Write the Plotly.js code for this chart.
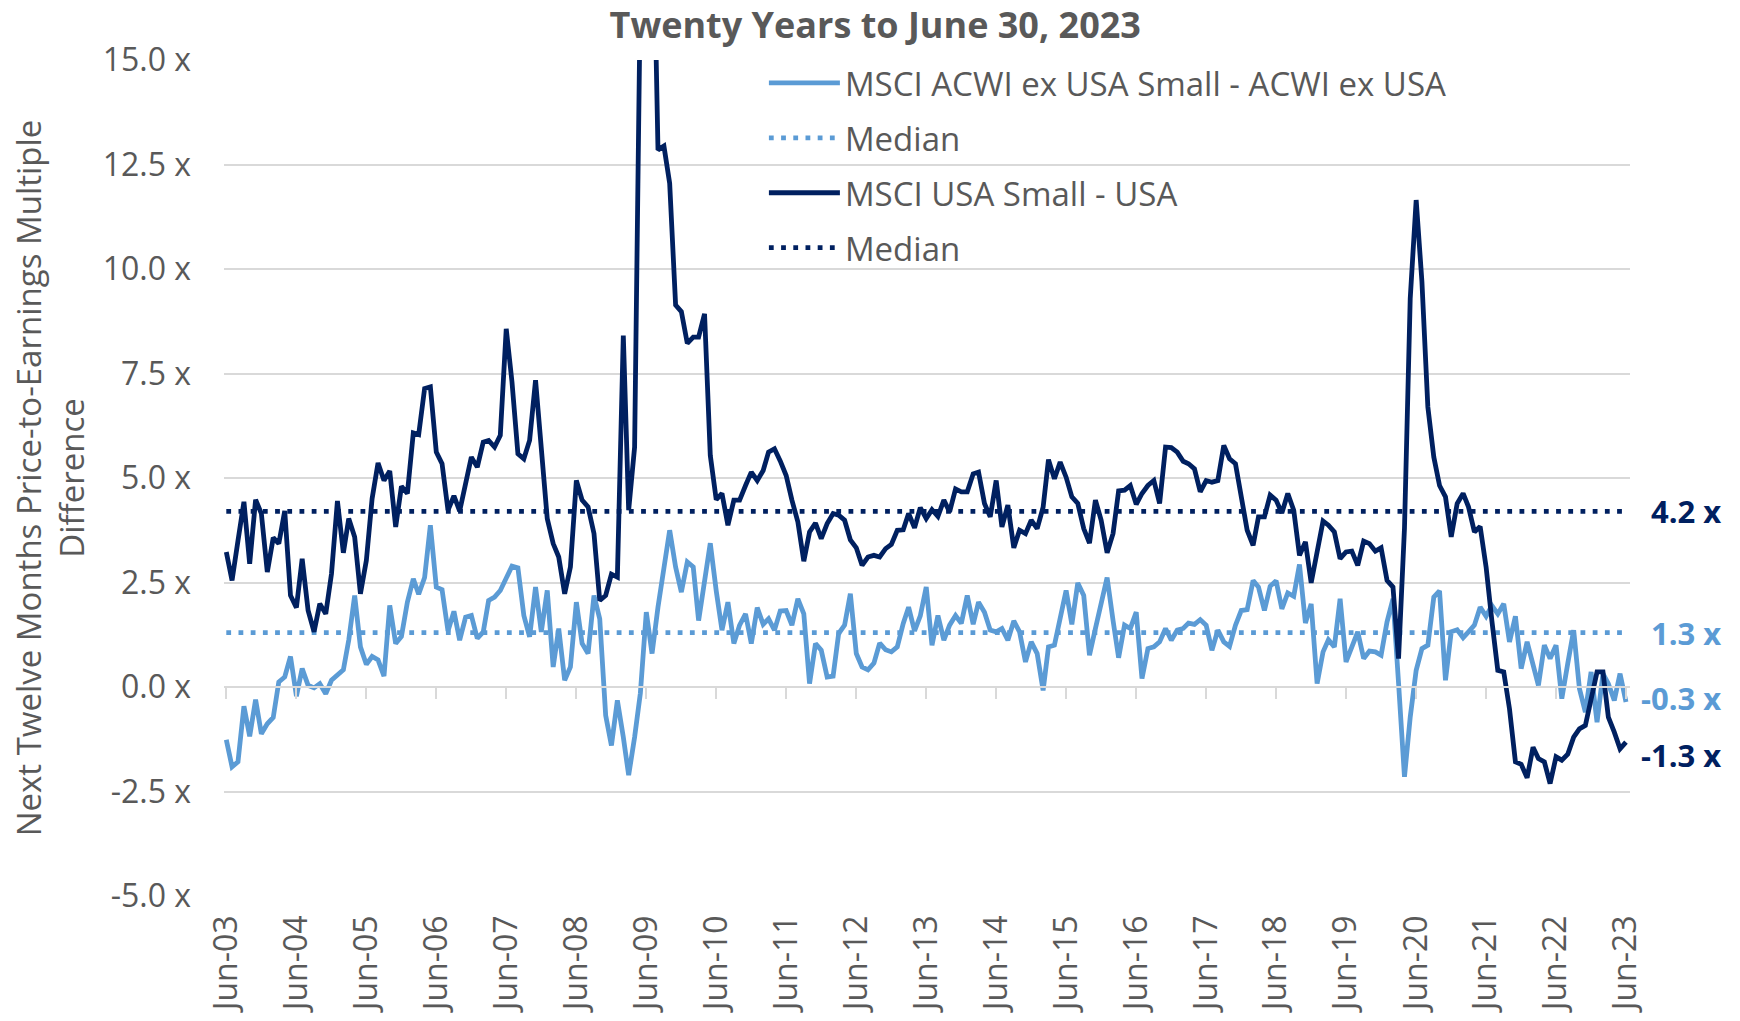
<!DOCTYPE html>
<html>
<head>
<meta charset="utf-8">
<script src="https://cdn.plot.ly/plotly-3.0.1.min.js"></script>
<style>
  html, body { margin: 0; padding: 0; background: #ffffff; }
  #chart { width: 1740px; height: 1021px; }
</style>
</head>
<body>
<div id="chart"></div>
<script>
// ---------------- DATA ----------------
const START_YEAR = 2003;
const START_MONTH = 6; // June 2003, monthly to June 2023

// MSCI ACWI ex USA Small - ACWI ex USA (NTM P/E difference)
const acwiExUsaSmallSpread = [
  -1.26, -1.91, -1.79, -0.46, -1.18, -0.30, -1.12, -0.88, -0.73, 0.12, 0.24, 0.73,
  -0.22, 0.44, 0.04, -0.02, 0.08, -0.16, 0.16, 0.30, 0.41, 1.12, 2.19, 0.96,
  0.54, 0.73, 0.65, 0.26, 1.95, 1.04, 1.21, 2.03, 2.59, 2.22, 2.62, 3.87,
  2.39, 2.33, 1.34, 1.81, 1.12, 1.67, 1.71, 1.16, 1.32, 2.07, 2.15, 2.31,
  2.63, 2.89, 2.85, 1.71, 1.20, 2.39, 1.32, 2.31, 0.48, 1.40, 0.16, 0.48,
  2.03, 1.04, 0.80, 2.19, 1.63, -0.68, -1.40, -0.32, -1.20, -2.11, -1.20, -0.15,
  1.79, 0.80, 1.91, 2.79, 3.75, 2.87, 2.27, 2.99, 2.87, 1.59, 2.50, 3.44,
  2.30, 1.36, 2.03, 1.04, 1.48, 1.75, 1.04, 1.90, 1.50, 1.63, 1.36, 1.82,
  1.83, 1.48, 2.11, 1.75, 0.08, 1.04, 0.88, 0.24, 0.26, 1.28, 1.48, 2.23,
  0.80, 0.48, 0.41, 0.57, 1.05, 0.89, 0.84, 0.96, 1.52, 1.91, 1.34, 1.70,
  2.39, 1.00, 1.71, 1.12, 1.48, 1.71, 1.52, 2.19, 1.50, 2.03, 1.79, 1.36,
  1.32, 1.40, 1.12, 1.58, 1.32, 0.60, 1.08, 0.80, -0.08, 0.96, 1.00, 1.63,
  2.31, 1.50, 2.49, 2.19, 0.76, 1.40, 2.03, 2.62, 1.59, 0.70, 1.48, 1.40,
  1.79, 0.20, 0.92, 0.96, 1.08, 1.40, 1.12, 1.36, 1.40, 1.53, 1.50, 1.61,
  1.48, 0.88, 1.36, 1.08, 0.97, 1.48, 1.83, 1.85, 2.55, 2.39, 1.83, 2.41,
  2.54, 1.87, 2.25, 2.17, 2.93, 1.53, 1.99, 0.08, 0.84, 1.13, 0.96, 2.11,
  0.60, 0.96, 1.32, 0.68, 0.86, 0.84, 0.76, 1.56, 2.11, 0.10, -2.15, -0.72,
  0.40, 0.92, 1.00, 2.15, 2.30, 0.16, 1.32, 1.37, 1.18, 1.32, 1.48, 1.91,
  1.69, 1.95, 1.75, 1.99, 1.08, 1.69, 0.44, 1.08, 0.56, 0.04, 1.00, 0.68,
  1.00, -0.28, 0.56, 1.36, -0.04, -0.60, 0.36, -0.84, 0.32, 0.08, -0.32, 0.32,
  -0.36
];

// MSCI USA Small - USA (NTM P/E difference); values above 15 run off the chart
const usaSmallSpread = [
  3.23, 2.55, 3.50, 4.43, 2.95, 4.48, 4.15, 2.75, 3.57, 3.43, 4.21, 2.19,
  1.90, 3.07, 1.83, 1.32, 1.99, 1.75, 2.71, 4.45, 3.21, 4.03, 3.59, 2.23,
  3.03, 4.51, 5.36, 4.94, 5.17, 3.83, 4.80, 4.63, 6.08, 6.04, 7.14, 7.18,
  5.62, 5.34, 4.23, 4.57, 4.21, 4.85, 5.50, 5.26, 5.86, 5.90, 5.74, 6.02,
  8.57, 7.30, 5.58, 5.46, 5.90, 7.34, 5.70, 4.03, 3.43, 3.11, 2.23, 2.87,
  4.94, 4.47, 4.31, 3.67, 2.07, 2.19, 2.70, 2.63, 8.41, 4.23, 5.74, 24.0,
  28.0, 20.0, 12.85, 12.94, 12.05, 9.14, 8.98, 8.22, 8.37, 8.37, 8.93, 5.54,
  4.48, 4.63, 3.87, 4.47, 4.47, 4.82, 5.14, 4.94, 5.18, 5.62, 5.70, 5.41,
  5.06, 4.47, 3.95, 3.01, 3.71, 3.92, 3.55, 3.91, 4.15, 4.11, 3.99, 3.52,
  3.33, 2.91, 3.11, 3.15, 3.11, 3.31, 3.41, 3.75, 3.76, 4.15, 3.81, 4.29,
  4.03, 4.24, 4.08, 4.47, 4.19, 4.74, 4.67, 4.67, 5.10, 5.14, 4.39, 4.07,
  4.94, 3.83, 4.35, 3.33, 3.75, 3.67, 3.99, 3.79, 4.30, 5.44, 4.98, 5.38,
  5.02, 4.55, 4.39, 3.79, 3.44, 4.47, 3.99, 3.21, 3.67, 4.69, 4.71, 4.82,
  4.37, 4.63, 4.82, 4.94, 4.39, 5.74, 5.73, 5.62, 5.40, 5.34, 5.22, 4.67,
  4.94, 4.90, 4.94, 5.78, 5.46, 5.34, 4.55, 3.75, 3.39, 4.07, 4.07, 4.59,
  4.47, 4.16, 4.63, 4.23, 3.15, 3.47, 2.49, 3.31, 3.97, 3.87, 3.71, 3.07,
  3.23, 3.25, 2.91, 3.49, 3.43, 3.25, 3.33, 2.55, 2.39, 0.68, 3.80, 9.30,
  11.65, 9.70, 6.70, 5.50, 4.82, 4.55, 3.59, 4.39, 4.63, 4.31, 3.71, 3.84,
  2.87, 1.59, 0.40, 0.36, -0.52, -1.79, -1.85, -2.17, -1.44, -1.71, -1.79, -2.31,
  -1.67, -1.75, -1.61, -1.20, -1.00, -0.92, -0.32, 0.36, 0.36, -0.72, -1.08, -1.48,
  -1.32
];

const acwiMedian = 1.3;
const usaMedian = 4.2;

const seriesNames = ['MSCI ACWI ex USA Small - ACWI ex USA', 'Median', 'MSCI USA Small - USA', 'Median'];

const xTickVals = ['2003-06-01','2004-06-01','2005-06-01','2006-06-01','2007-06-01','2008-06-01',
  '2009-06-01','2010-06-01','2011-06-01','2012-06-01','2013-06-01','2014-06-01','2015-06-01',
  '2016-06-01','2017-06-01','2018-06-01','2019-06-01','2020-06-01','2021-06-01','2022-06-01','2023-06-01'];
const xTickText = ['Jun-03','Jun-04','Jun-05','Jun-06','Jun-07','Jun-08','Jun-09','Jun-10','Jun-11',
  'Jun-12','Jun-13','Jun-14','Jun-15','Jun-16','Jun-17','Jun-18','Jun-19','Jun-20','Jun-21','Jun-22','Jun-23'];

const yTickVals = [-5, -2.5, 0, 2.5, 5, 7.5, 10, 12.5, 15];
const yTickText = ['-5.0 x', '-2.5 x', '0.0 x', '2.5 x', '5.0 x', '7.5 x', '10.0 x', '12.5 x', '15.0 x'];

// end-of-chart labels
const endLabelValues = [4.2, 1.3, -0.3, -1.3];
const endLabelText = ['4.2 x', '1.3 x', '-0.3 x', '-1.3 x'];
const endLabelSeries = ['usa', 'acwi', 'acwi', 'usa'];

// ---------------- BUILD ----------------
const LIGHT = '#5B9BD5';
const DARK = '#002060';
const GRAY = '#595959';
const GRID = '#D9D9D9';
const FONT = 'Open Sans, Noto Sans, sans-serif';

const dates = acwiExUsaSmallSpread.map((_, i) => {
  const mIdx = START_MONTH - 1 + i;
  const y = START_YEAR + Math.floor(mIdx / 12);
  const m = (mIdx % 12) + 1;
  return y + '-' + String(m).padStart(2, '0') + '-01';
});

const DOT = '4.8px,7.4px';
const LW = 4.8;

const traces = [
  { x: dates, y: acwiExUsaSmallSpread, name: seriesNames[0], type: 'scatter', mode: 'lines',
    line: { color: LIGHT, width: LW }, legendgroup: 'g1', hoverinfo: 'skip' },
  { x: dates, y: dates.map(() => acwiMedian), name: seriesNames[1], type: 'scatter', mode: 'lines',
    line: { color: LIGHT, width: 4.8, dash: DOT }, legendgroup: 'g2', hoverinfo: 'skip' },
  { x: dates, y: usaSmallSpread, name: seriesNames[2], type: 'scatter', mode: 'lines',
    line: { color: DARK, width: LW }, legendgroup: 'g3', hoverinfo: 'skip' },
  { x: dates, y: dates.map(() => usaMedian), name: seriesNames[3], type: 'scatter', mode: 'lines',
    line: { color: DARK, width: 4.8, dash: DOT }, legendgroup: 'g4', hoverinfo: 'skip' },
  // invisible helper so the zero-line tick axis (x2) is drawn
  { x: [dates[0]], y: [yTickVals[2]], xaxis: 'x2', yaxis: 'y', type: 'scatter', mode: 'lines',
    line: { width: 0 }, showlegend: false, hoverinfo: 'skip' }
];

const xRange = ['2003-05-20', '2023-06-22'];

const annotations = endLabelValues.map((v, i) => ({
  xref: 'paper', yref: 'y', x: 1, y: v, xanchor: 'right', yanchor: 'middle',
  xshift: 93, yshift: (i === 3 ? -14 : (i === 2 ? 2 : 0)),
  text: endLabelText[i], showarrow: false,
  font: { family: FONT, size: 31, weight: 'bold', color: endLabelSeries[i] === 'usa' ? DARK : LIGHT }
}));

const layout = {
  width: 1740, height: 1021,
  margin: { l: 224, r: 110, t: 60, b: 125, pad: 0 },
  paper_bgcolor: '#ffffff', plot_bgcolor: '#ffffff',
  font: { family: FONT, color: GRAY, size: 32 },
  title: {
    text: 'Twenty Years to June 30, 2023',
    font: { family: FONT, size: 36, color: GRAY, weight: 'bold' },
    xref: 'container', x: 0.503, xanchor: 'center',
    yref: 'container', y: 0.975, yanchor: 'middle'
  },
  showlegend: true,
  legend: {
    x: 0.384, y: 1.006, xanchor: 'left', yanchor: 'top',
    bgcolor: 'rgba(0,0,0,0)', borderwidth: 0,
    font: { family: FONT, size: 33, color: GRAY },
    itemwidth: 71, traceorder: 'grouped', tracegroupgap: 9
  },
  xaxis: {
    type: 'date', range: xRange,
    tickmode: 'array', tickvals: xTickVals, ticktext: xTickText,
    tickangle: -90, tickfont: { family: FONT, size: 32, color: GRAY },
    showgrid: false, zeroline: false, showline: false, ticks: '',
    ticklabelstandoff: 12, automargin: false, fixedrange: true
  },
  xaxis2: {
    type: 'date', range: xRange, overlaying: 'x', anchor: 'free', position: 0.25, side: 'bottom',
    tickmode: 'array', tickvals: xTickVals, ticks: 'outside', ticklen: 11, tickwidth: 2, tickcolor: GRID,
    showticklabels: false, showgrid: false, zeroline: false,
    showline: true, linecolor: GRID, linewidth: 2, automargin: false, fixedrange: true
  },
  yaxis: {
    range: [-5, 15], tickmode: 'array', tickvals: yTickVals, ticktext: yTickText,
    tickfont: { family: FONT, size: 32, color: GRAY },
    showgrid: true, gridcolor: GRID, gridwidth: 2,
    zeroline: false, showline: false, ticks: '',
    ticklabelstandoff: 32, automargin: false, fixedrange: true,
    title: {
      text: 'Next Twelve Months Price-to-Earnings Multiple<br>Difference',
      font: { family: FONT, size: 33, color: GRAY }, standoff: 8
    }
  },
  annotations: annotations
};

Plotly.newPlot('chart', traces, layout, { staticPlot: true, displayModeBar: false });
</script>
</body>
</html>
